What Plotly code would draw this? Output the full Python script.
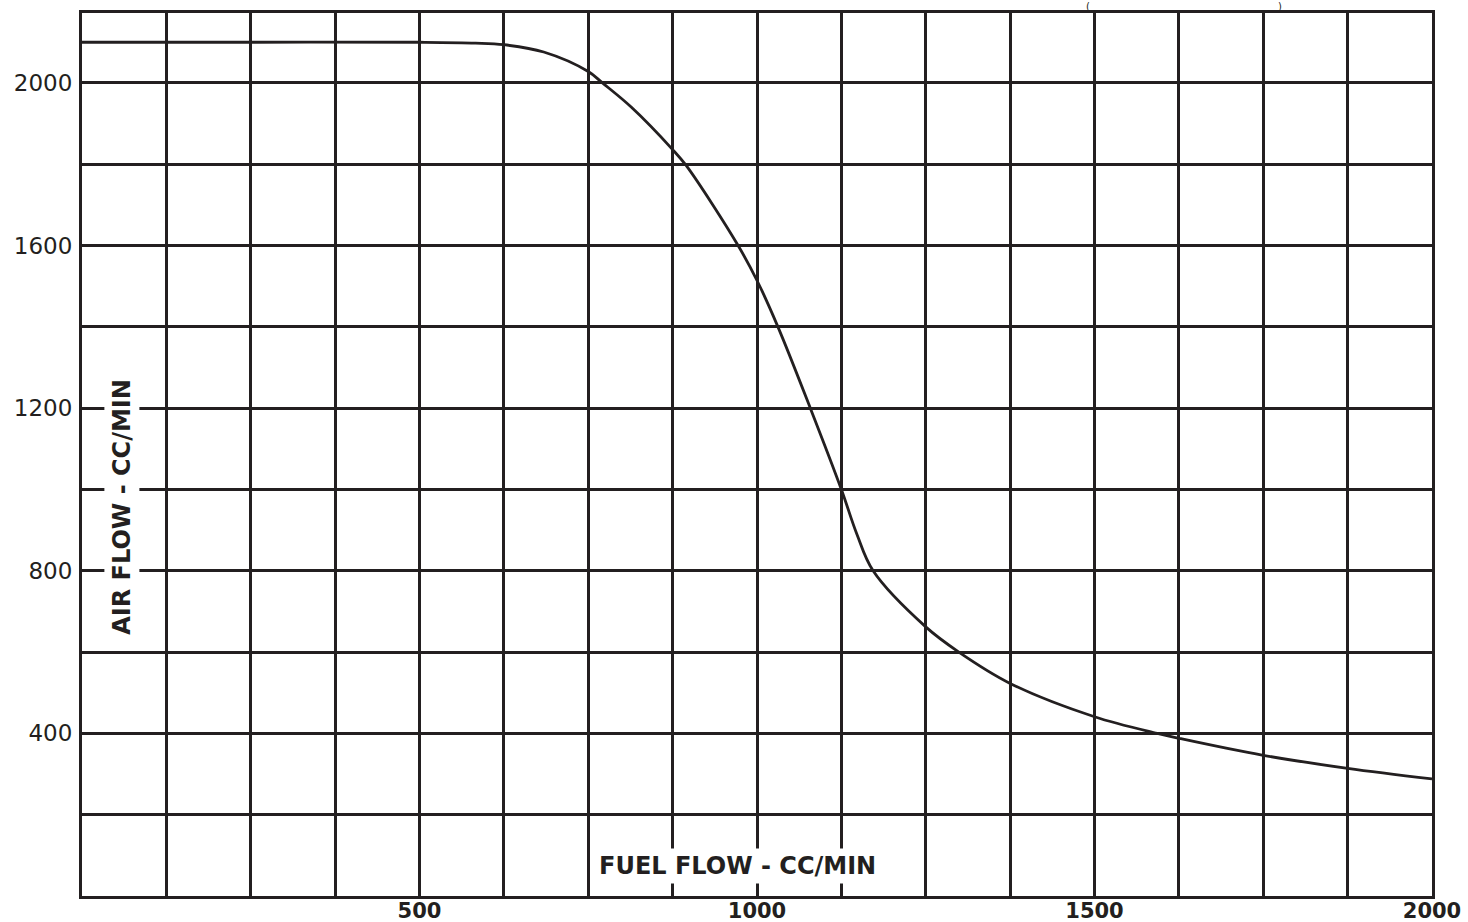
import plotly.graph_objects as go

# Data
fuel_flow = [0, 250, 500, 583, 625, 684, 750, 771, 814, 875, 895, 972, 1000,
             1031, 1079, 1125, 1148, 1172, 1250, 1299, 1375, 1500, 1593, 1625,
             1750, 1875, 2000]
air_flow = [2100, 2100, 2100, 2098, 2094, 2076, 2028, 2000, 1940, 1836, 1797,
            1600, 1514, 1400, 1200, 1000, 890, 800, 662, 600, 523, 441, 400, 388,
            346, 314, 288]

x_grid = list(range(0, 2001, 125))
x_labels = {500: "500", 1000: "1000", 1500: "1500", 2000: "2000"}
y_grid = list(range(0, 2001, 200))
y_labels = {400: "400", 800: "800", 1200: "1200", 1600: "1600", 2000: "2000"}

INK = "#231f20"

fig = go.Figure()
fig.add_trace(go.Scatter(
    x=fuel_flow, y=air_flow, mode="lines",
    line=dict(color=INK, width=2.8, shape="spline", smoothing=1.0),
    hoverinfo="skip", showlegend=False,
))

fig.update_layout(
    width=1468, height=922,
    margin=dict(l=82, r=36, t=13, b=26),
    paper_bgcolor="white", plot_bgcolor="white",
    showlegend=False,
    xaxis=dict(
        range=[0, 2000], tickmode="array", tickvals=x_grid,
        ticktext=[x_labels.get(v, "") for v in x_grid],
        showgrid=True, gridcolor=INK, gridwidth=2.6,
        showline=True, linecolor=INK, linewidth=3, mirror=True,
        zeroline=False, ticks="", automargin=False,
        tickfont=dict(family="DejaVu Sans", size=21, color=INK, weight="bold"),
        ticklabelstandoff=-6,
    ),
    yaxis=dict(
        range=[0, 2172], tickmode="array", tickvals=y_grid,
        ticktext=[y_labels.get(v, "") for v in y_grid],
        showgrid=True, gridcolor=INK, gridwidth=2.6,
        showline=True, linecolor=INK, linewidth=3, mirror=True,
        zeroline=False, ticks="", automargin=False,
        tickfont=dict(family="DejaVu Sans", size=23, color=INK),
        ticklabelstandoff=2,
    ),
)

fig.add_annotation(
    text="AIR FLOW - CC/MIN", x=59, y=957, xref="x", yref="y",
    textangle=-90, showarrow=False, bgcolor="white", borderpad=3,
    font=dict(family="DejaVu Sans", size=24, color=INK, weight="bold"),
)
fig.add_annotation(
    text="FUEL FLOW - CC/MIN", x=971, y=74, xref="x", yref="y",
    showarrow=False, bgcolor="white", borderpad=3,
    font=dict(family="DejaVu Sans", size=24, color=INK, weight="bold"),
)
# Parentheses of a title above the frame
for ch, xpos in (("(", 1490), (")", 1775)):
    fig.add_annotation(text=ch, x=xpos, y=1.0, xref="x", yref="paper",
                       yanchor="bottom", yshift=0, borderpad=0, showarrow=False,
                       font=dict(family="DejaVu Sans", size=10, color=INK))

fig.write_html("out.html", config={"displayModeBar": False},
               post_script="document.body.style.margin='0';")
